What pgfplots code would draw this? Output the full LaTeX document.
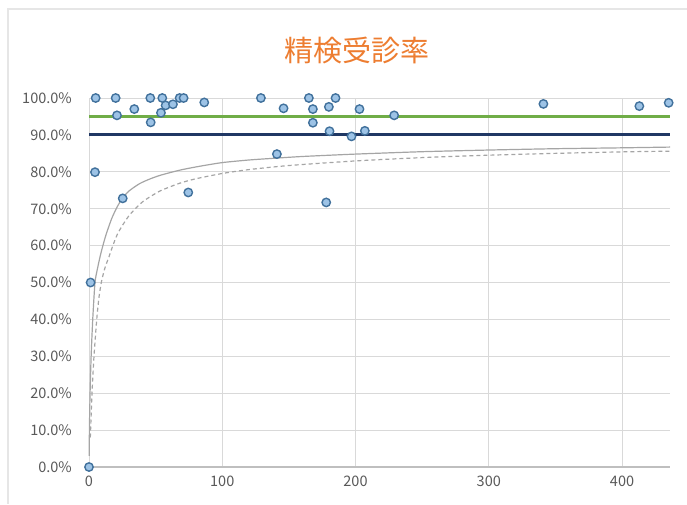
\documentclass[border=0pt]{standalone}
\usepackage{pgfplots}
\pgfplotsset{compat=1.18}
\usepackage{fontspec}
\setmainfont{Noto Sans CJK JP}
\definecolor{gridc}{HTML}{D9D9D9}
\definecolor{axisc}{HTML}{BFBFBF}
\definecolor{tickc}{HTML}{595959}
\definecolor{titlec}{HTML}{ED7D31}
\definecolor{mfill}{HTML}{9DC3E6}
\definecolor{medge}{HTML}{41719C}
\definecolor{greenc}{HTML}{70AD47}
\definecolor{navyc}{HTML}{203864}
\definecolor{trendc}{HTML}{A5A5A5}
\definecolor{framec}{HTML}{E6E6E6}
\begin{document}
\begin{tikzpicture}[x=1pt,y=1pt]
\path[use as bounding box] (0,0) rectangle (687,-504);
\draw[framec, line width=1.5pt] (8,-504) -- (8,-9) -- (687,-9);
\node[text=titlec, font=\fontsize{29}{29}\selectfont] at (357,-50) {精検受診率};
\begin{axis}[
  at={(89pt,-467pt)}, anchor=south west,
  scale only axis, width=581pt, height=369pt,
  xmin=0, xmax=436, ymin=0, ymax=100,
  clip=false,
  axis line style={draw=none},
  major tick length=0pt,
  xtick={0,100,200,300,400},
  ytick={0,10,...,100},
  yticklabels={0.0\%,10.0\%,20.0\%,30.0\%,40.0\%,50.0\%,60.0\%,70.0\%,80.0\%,90.0\%,100.0\%},
  /pgf/number format/assume math mode=true,
  grid=major,
  major grid style={gridc, line width=0.9pt},
  extra y ticks={0},
  extra y tick labels={},
  extra y tick style={grid=major, major grid style={axisc, line width=1.2pt}},
  tick label style={text=tickc, font=\fontsize{14.5}{14.5}\selectfont},
  yticklabel style={inner sep=0pt, xshift=-17pt},
  xticklabel style={inner sep=0pt, yshift=-9pt},
]
% lower limit curves
\addplot[trendc, line width=1.2pt, smooth, tension=0.4] coordinates {
(0.15,3) (0.3,10) (0.8,20) (1.6,30) (2.8,40) (4.5,50) (6.5,54) (8.5,57.3) (10.5,60.1) (13,63.2) (17,67.3) (21,70.4) (25,72.8) (30,74.8) (38,76.8) (46,78.1) (53,79) (61,79.8) (70,80.6) (83,81.5) (100,82.5) (120,83.2) (136,83.6) (160,84.15) (200,84.8) (250,85.45) (300,85.9) (350,86.26) (400,86.5) (436,86.7)};
\addplot[trendc, line width=1.2pt, dash pattern=on 4pt off 3pt, smooth, tension=0.4] coordinates {
(1.0,8) (1.2,10) (2.25,20) (3.75,30) (5.8,40) (7.5,46) (9.5,50.5) (12,54) (15,57) (18,60.1) (22,63.6) (30,68.1) (40,71.8) (53,74.75) (68,76.9) (80,78.1) (100,79.55) (120,80.6) (150,81.7) (200,82.95) (250,83.85) (300,84.5) (350,85) (400,85.4) (436,85.6)};
% reference lines
\addplot[greenc, line width=2.6pt] coordinates {(0,95) (436,95)};
\addplot[navyc, line width=3pt] coordinates {(0,90) (436,90)};
% data
\addplot[only marks, mark=*, mark size=4.2pt, mark options={fill=mfill, draw=medge, line width=1.4pt}] coordinates {
(0,0) (1.2,50) (4.5,79.9) (5,100) (20,100) (21,95.3) (25.3,72.8) (34,97) (46,100) (46.3,93.4)
(55,100) (54,96) (57.5,98) (63,98.3) (68,100) (71,100) (74.5,74.4) (86.5,98.8)
(129,100) (141,84.8) (146,97.2) (165,100) (168,97) (168,93.3) (180,97.6) (185,100)
(180.5,91) (178,71.7) (197,89.6) (203,97) (207,91.1) (229,95.3)
(341,98.4) (413,97.8) (435,98.7)};
\end{axis}
\end{tikzpicture}
\end{document}
